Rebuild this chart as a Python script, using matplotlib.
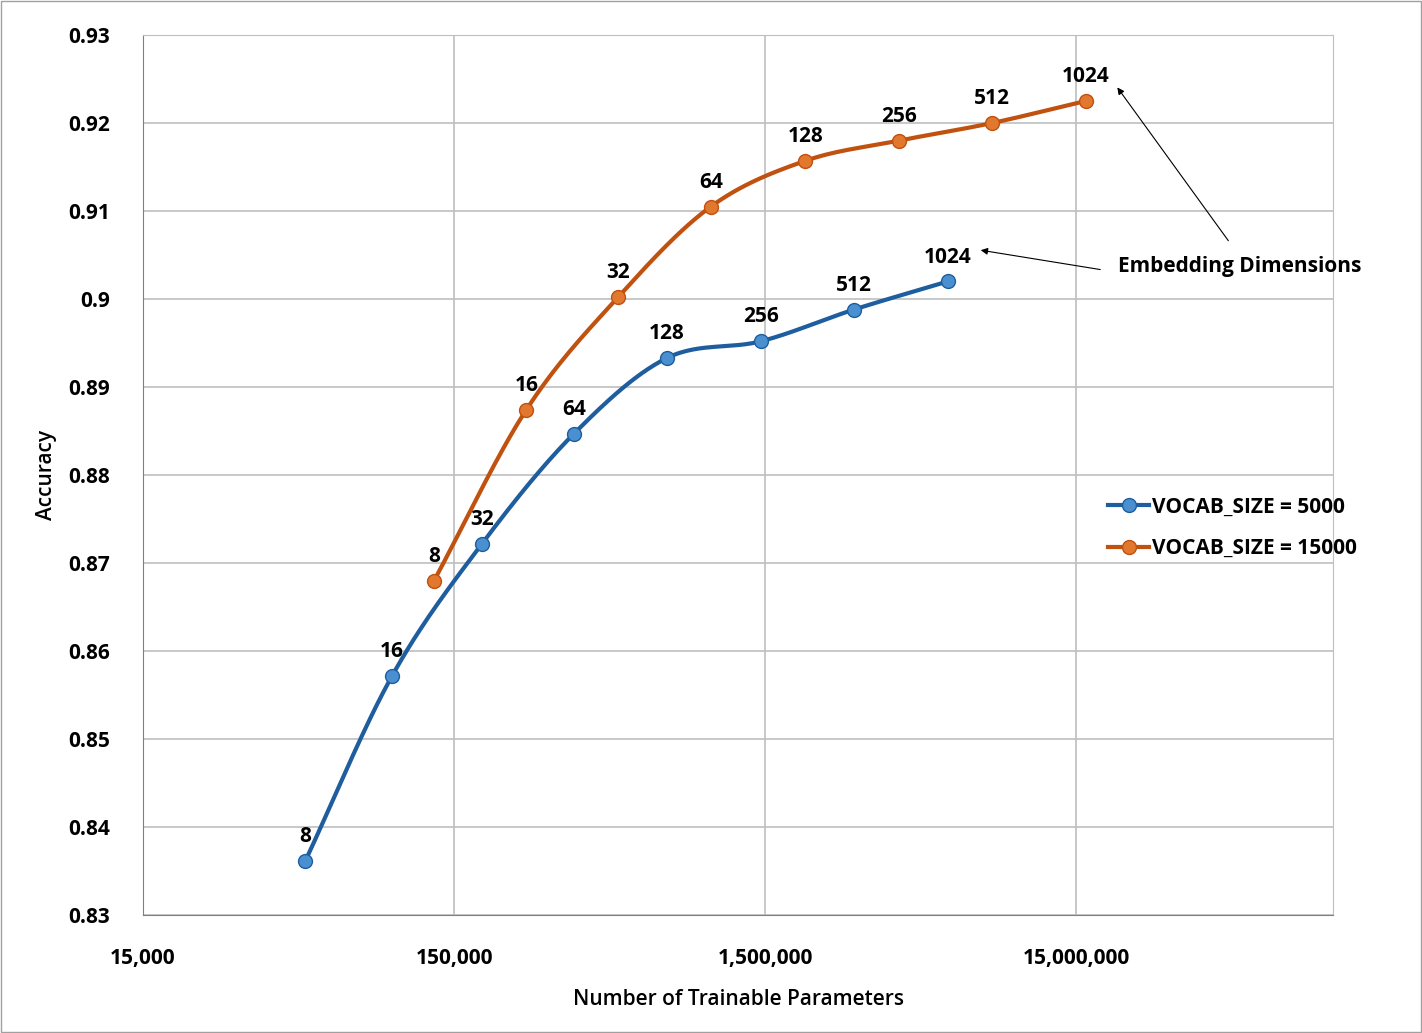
import matplotlib
matplotlib.use('Agg')
import matplotlib.pyplot as plt
import numpy as np

plt.rcParams['font.family'] = ['Open Sans', 'DejaVu Sans']
plt.rcParams['font.weight'] = 'bold'

dims = ['8', '16', '32', '64', '128', '256', '512', '1024']
params_5000 = [49800, 94900, 184600, 364600, 726000, 1456000, 2897000, 5807000]
acc_5000 = [0.8361, 0.8572, 0.8722, 0.8847, 0.8933, 0.8952, 0.8988, 0.9020]
params_15000 = [129400, 256000, 505000, 1004000, 2020000, 4050000, 8060000, 16100000]
acc_15000 = [0.8680, 0.8874, 0.9002, 0.9105, 0.9157, 0.9180, 0.9200, 0.9225]


def smooth(xs, ys, n=30):
    # Catmull-Rom in log-x space, just for drawing the smoothed line
    lx = np.log10(xs)
    ys = np.asarray(ys)
    px = np.concatenate([[2 * lx[0] - lx[1]], lx, [2 * lx[-1] - lx[-2]]])
    py = np.concatenate([[2 * ys[0] - ys[1]], ys, [2 * ys[-1] - ys[-2]]])
    ox, oy = [], []
    for i in range(1, len(px) - 2):
        t = np.linspace(0, 1, n)
        for arr, out in ((px, ox), (py, oy)):
            p0, p1, p2, p3 = arr[i - 1:i + 3]
            out.extend(0.5 * (2 * p1 + (-p0 + p2) * t + (2 * p0 - 5 * p1 + 4 * p2 - p3) * t ** 2
                              + (-p0 + 3 * p1 - 3 * p2 + p3) * t ** 3))
    return 10 ** np.array(ox), np.array(oy)


fig = plt.figure(figsize=(14.22, 10.33), dpi=100)
ax = fig.add_axes([0.1006, 0.1142, 0.8368, 0.8519])

series = [
    (params_5000, acc_5000, '#1F5E9E', '#4A8FD0', 'VOCAB_SIZE = 5000'),
    (params_15000, acc_15000, '#C0510F', '#E2772E', 'VOCAB_SIZE = 15000'),
]
for xs, ys, lc, fc, lab in series:
    sx, sy = smooth(xs, ys)
    ax.plot(sx, sy, color=lc, lw=3, zorder=3)
    ax.plot(xs, ys, 'o', color=lc, mfc=fc, mec=lc, ms=10, zorder=4)
    ax.plot([], [], '-o', color=lc, mfc=fc, mec=lc, ms=10, lw=3, label=lab)
    for x, y, d in zip(xs, ys, dims):
        ax.annotate(d, (x, y), xytext=(0, 10), textcoords='offset points',
                    ha='center', va='bottom', fontsize=15, fontweight='bold')

ax.set_xscale('log')
ax.set_xlim(15000, 15000 * 10 ** (1190 / 311))
ax.set_ylim(0.83, 0.93)
ax.set_xticks([15000, 150000, 1500000, 15000000])
ax.set_xticklabels(['15,000', '150,000', '1,500,000', '15,000,000'])
ax.xaxis.set_minor_locator(matplotlib.ticker.NullLocator())
ax.set_yticks(np.arange(0.83, 0.9301, 0.01))
ax.set_yticklabels(['0.83', '0.84', '0.85', '0.86', '0.87', '0.88', '0.89', '0.9', '0.91', '0.92', '0.93'])
ax.tick_params(labelsize=15, length=0)
ax.tick_params(axis='x', pad=24)
ax.tick_params(axis='y', pad=24)
ax.grid(True, color='#BFBFBF', lw=1.2)
ax.set_axisbelow(True)
for s in ax.spines.values():
    s.set_color('#BFBFBF')
ax.spines['bottom'].set_color('#808080')
ax.spines['left'].set_color('#808080')
ax.set_xlabel('Number of Trainable Parameters', fontsize=15, fontweight='semibold', labelpad=14)
ax.set_ylabel('Accuracy', fontsize=15, fontweight='semibold', labelpad=8)

ax.legend(loc='center left', bbox_to_anchor=(0.795, 0.44), frameon=False, fontsize=15,
          handlelength=2.0, handletextpad=0.1, labelspacing=1.0)

fig.text(1118 / 1422, 1 - 267 / 1033, 'Embedding Dimensions', fontsize=15, fontweight='bold', va='center')
for x, y in ((params_15000[-1], acc_15000[-1]), (params_5000[-1], acc_5000[-1])):
    ax.annotate('', xy=(x * 1.25, y + 0.0018 if y > 0.91 else y + 0.0036),
                xytext=(1230 / 1422, 1 - 243 / 1033) if y > 0.91 else (1103 / 1422, 1 - 270 / 1033),
                textcoords='figure fraction',
                arrowprops=dict(arrowstyle='-|>', color='black', lw=0.8))

fig.patches.append(plt.Rectangle((0.001, 0.001), 0.998, 0.998, transform=fig.transFigure,
                                 fill=False, ec='#A0A0A0', lw=1))
fig.savefig('out.png', dpi=100)
